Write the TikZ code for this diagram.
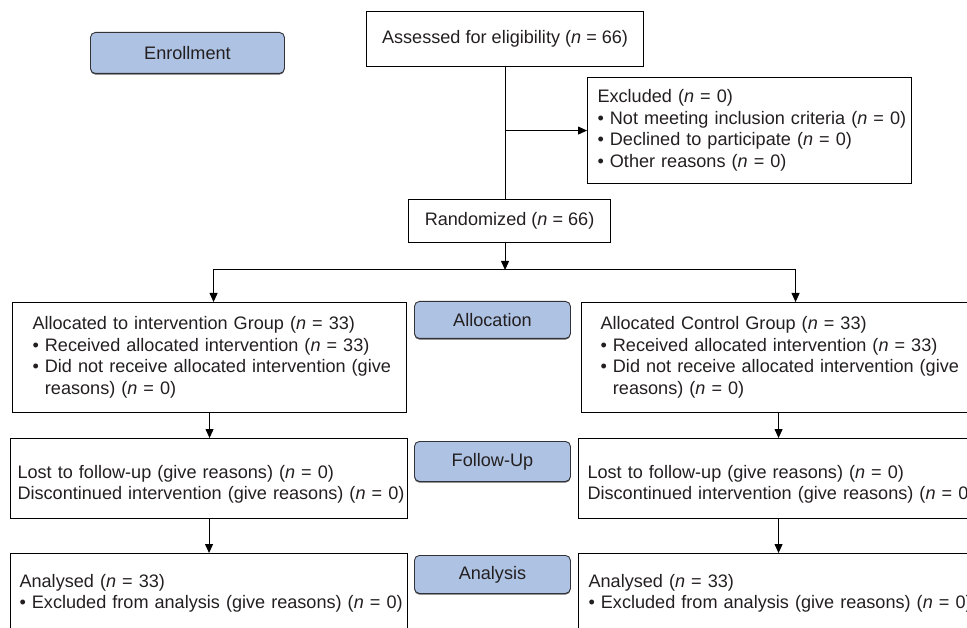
\documentclass[tikz,border=0pt]{standalone}
\usepackage{fontspec}
\setmainfont{Liberation Sans}
\usepackage{xcolor}
\usepackage{tikz}
\usetikzlibrary{positioning}
\usetikzlibrary{arrows.meta}
\usetikzlibrary{shadows}

\definecolor{stageblue}{RGB}{174,195,228}
\definecolor{stageline}{RGB}{50,50,55}
\definecolor{txtgray}{RGB}{35,31,32}

\begin{document}
\begin{tikzpicture}[x=1pt, y=-1pt,
		every node/.style={font=\fontsize{18.1}{21.5}\selectfont, text=txtgray},
		plainbox/.style={draw=black, line width=1.1pt, anchor=north west, align=center, inner sep=0pt},
		txtbox/.style={draw=black, line width=1.1pt, anchor=north west, align=left, inner xsep=0pt,
			execute at begin node={\leftskip=#1}},
		stage/.style={draw=stageline, fill=stageblue, line width=0.9pt, rounded corners=5pt,
			anchor=north west, minimum width=156pt, inner sep=0pt,
			drop shadow={shadow xshift=0pt, shadow yshift=-1.2pt, opacity=0.8, fill=stageline}},
		line/.style={line width=1pt, black},
		arr/.style={line width=1pt, black, -{Triangle[length=9pt,width=8pt]}}]
			\useasboundingbox (0,0) rectangle (967,628);
			\clip (0,0) rectangle (967,628);

			% Stage labels
			\node[stage, minimum width=194pt, minimum height=41pt] (enrol) at (90,32) {Enrollment};
			\node[stage, minimum height=37pt] (allocT) at (414,301) {Allocation};
			\node[stage, minimum height=40pt] (fuT) at (414,441) {Follow-Up};
			\node[stage, minimum height=38pt] (anT) at (414,555) {Analysis};

			% Enrollment part
			\node[plainbox, minimum width=277pt, minimum height=55pt] (assess) at (366,11)
				{Assessed for eligibility (\textit{n} = 66)};
			\node[txtbox=10pt, text width=324pt, minimum height=106pt] (excl) at (587,77)
				{Excluded (\textit{n} = 0)\\
				 • Not meeting inclusion criteria (\textit{n} = 0)\\
				 • Declined to participate (\textit{n} = 0)\\
				 • Other reasons (\textit{n} = 0)};
			\node[plainbox, minimum width=202pt, minimum height=43pt] (rand) at (408,199)
				{Randomized (\textit{n} = 66)};

			% Allocation
			\node[txtbox=20pt, text width=394pt, minimum height=110pt] (allocL) at (12,302)
				{Allocated to intervention Group (\textit{n} = 33)\\
				 • Received allocated intervention (\textit{n} = 33)\\
				 • Did not receive allocated intervention (give\\
				 \phantom{• }reasons) (\textit{n} = 0)};
			\node[txtbox=19pt, text width=396pt, minimum height=110pt] (allocR) at (581,302)
				{Allocated Control Group (\textit{n} = 33)\\
				 • Received allocated intervention (\textit{n} = 33)\\
				 • Did not receive allocated intervention (give\\
				 \phantom{• }reasons) (\textit{n} = 0)};

			% Follow-up
			\node[txtbox=7pt, text width=397pt, minimum height=80pt, text height=25pt] (fuL) at (10,438)
				{Lost to follow-up (give reasons) (\textit{n} = 0)\\
				 Discontinued intervention (give reasons) (\textit{n} = 0)};
			\node[txtbox=9pt, text width=400pt, minimum height=80pt, text height=25pt] (fuR) at (578,438)
				{Lost to follow-up (give reasons) (\textit{n} = 0)\\
				 Discontinued intervention (give reasons) (\textit{n} = 0)};

			% Analysis
			\node[txtbox=9pt, text width=397pt, minimum height=80pt] (anL) at (10,553)
				{Analysed (\textit{n} = 33)\\
				 • Excluded from analysis (give reasons) (\textit{n} = 0)};
			\node[txtbox=10pt, text width=400pt, minimum height=80pt] (anR) at (578,553)
				{Analysed (\textit{n} = 33)\\
				 • Excluded from analysis (give reasons) (\textit{n} = 0)};

			% Connectors
			\coordinate (split) at (assess.south |- 0,270);
			\draw[line] (assess.south) -- (assess.south |- rand.north);
			\draw[arr] (assess.south |- excl.west) -- (excl.west);
			\draw[arr] (assess.south |- rand.south) -- (split);
			\draw[arr] (split) -| ([xshift=4pt]allocL.north);
			\draw[arr] (split) -| ([xshift=16pt]allocR.north);
			\draw[arr] (allocL.south) -- (allocL.south |- fuL.north);
			\draw[arr] (fuR.north |- allocR.south) -- (fuR.north);
			\draw[arr] (fuL.south) -- (anL.north);
			\draw[arr] (fuR.south) -- (anR.north);

		\end{tikzpicture}
\end{document}
